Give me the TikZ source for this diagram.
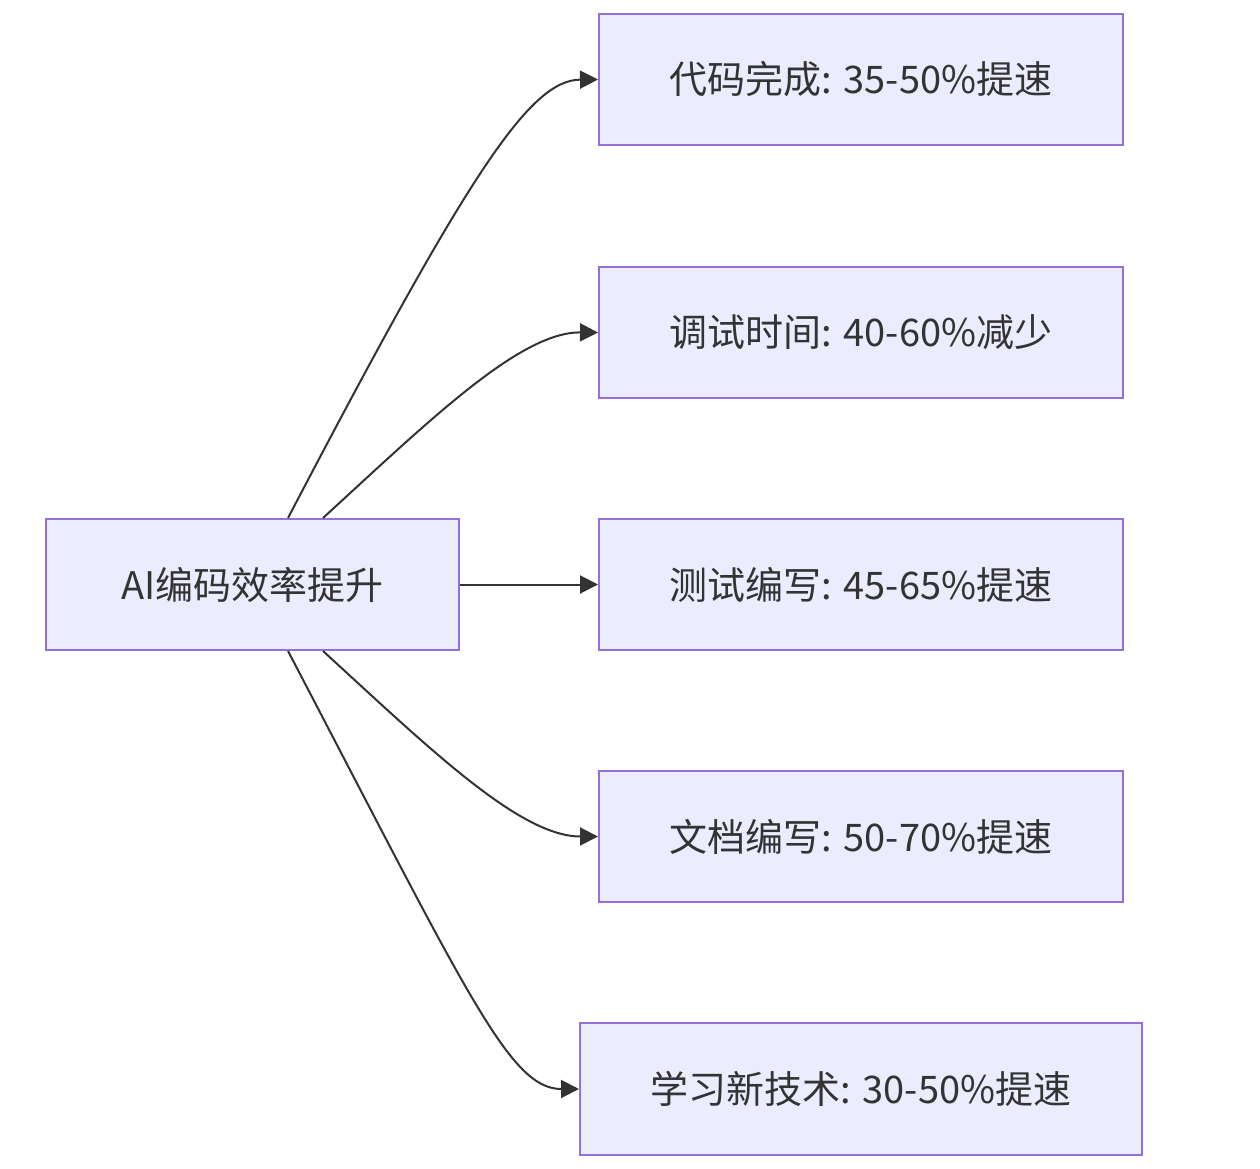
\documentclass[tikz,border=0pt]{standalone}
\usepackage{fontspec}
\setmainfont{Noto Sans CJK SC}
\usetikzlibrary{calc,arrows.meta}
\definecolor{nodefill}{HTML}{ECECFF}
\definecolor{nodeedge}{HTML}{9370DB}
\definecolor{linkc}{HTML}{333333}
\tikzset{
  x=0.75pt, y=-0.75pt,
  box/.style={draw=nodeedge, fill=nodefill, line width=1.5pt, text=linkc,
    font=\fontsize{28.5}{32}\selectfont, inner sep=0pt, anchor=center},
  rbox/.style={box, minimum width=393pt, minimum height=98.25pt},
  link/.style={draw=linkc, line width=1.5pt,
    -{Triangle[length=13.5pt,width=13.5pt]}},
}
\begin{document}
\begin{tikzpicture}
\useasboundingbox (0,0) rectangle (1260,1169);
\node[box, minimum width=309.75pt, minimum height=98.25pt] (L) at (252.5,584.5) {AI编码效率提升};
\node[rbox] (A) at (861,79.5) {代码完成: 35-50\%提速};
\node[rbox] (B) at (861,332.5) {调试时间: 40-60\%减少};
\node[rbox] (C) at (861,584.5) {测试编写: 45-65\%提速};
\node[rbox] (D) at (861,836.5) {文档编写: 50-70\%提速};
\node[box, minimum width=421.5pt, minimum height=99pt] (E) at (861,1089) {学习新技术: 30-50\%提速};
\draw[link] ($(L.north)+(35.5,0)$) .. controls (470,170) and (530,80) .. (A.west);
\draw[link] ($(L.north)+(70.5,0)$) .. controls (430,420) and (520,332) .. (B.west);
\draw[link] (L.east) -- (C.west);
\draw[link] ($(L.south)+(70.5,0)$) .. controls (430,749) and (520,836.5) .. (D.west);
\draw[link] ($(L.south)+(35.5,0)$) .. controls (470,999) and (510,1089) .. (E.west);
\end{tikzpicture}
\end{document}
